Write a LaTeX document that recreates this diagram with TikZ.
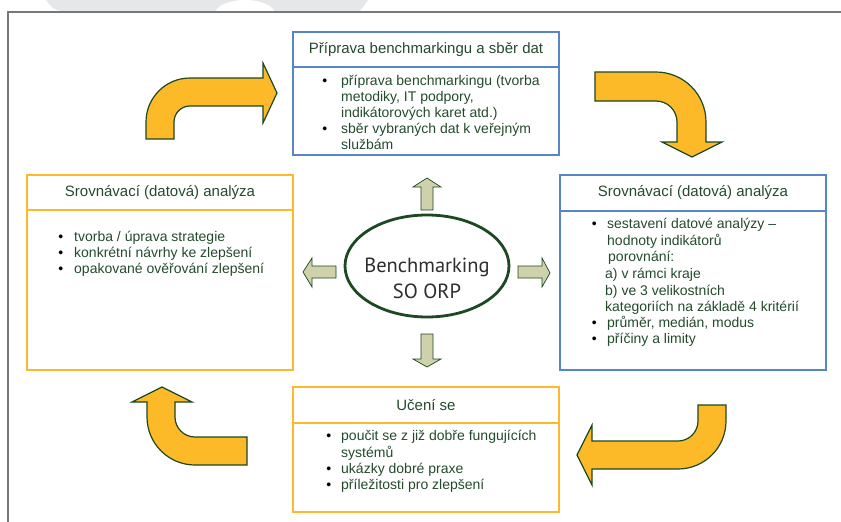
\documentclass[tikz,border=0pt]{standalone}
\usepackage{fontspec}
\setmainfont{Liberation Sans}
\newfontfamily\benchfont{PT Sans}
\usepackage{tikz}
\usetikzlibrary{shapes.geometric}

\definecolor{boxblue}{RGB}{88,133,199}
\definecolor{boxorange}{RGB}{252,185,44}
\definecolor{textgreen}{RGB}{36,74,44}
\definecolor{arroworange}{RGB}{252,186,40}
\definecolor{arrowgreen}{RGB}{28,72,34}
\definecolor{khaki}{RGB}{206,209,170}
\definecolor{framegray}{RGB}{118,119,122}
\definecolor{decogray}{RGB}{230,231,232}
\definecolor{benchgray}{RGB}{45,45,45}

\tikzstyle{bluebox} = [draw=boxblue, line width=2pt, inner sep=0pt, outer sep=0pt, minimum width=266pt]
\tikzstyle{orangebox} = [draw=boxorange, line width=2pt, inner sep=0pt, outer sep=0pt, minimum width=266pt]
\tikzstyle{headtext} = [text=textgreen, font=\fontsize{15}{18}\selectfont]
\tikzstyle{bodytext} = [text=textgreen, font=\fontsize{14}{16}\selectfont, align=left, anchor=north west, inner sep=0pt]
\tikzstyle{bigarrow} = [fill=arroworange, draw=arrowgreen, line width=1.2pt]
\tikzstyle{smallarrow} = [fill=khaki, draw=arrowgreen, line width=0.7pt]

\newcommand{\bul}[1]{\llap{\textcolor{black}{\fontsize{14}{14}\selectfont\textbullet}\hspace{#1}}}

\begin{document}
\begin{tikzpicture}[x=1pt, y=-1pt]
  \useasboundingbox (0,0) rectangle (841,522);

  % slide decoration and frame
  \fill[decogray] (46,0) .. controls (50,6) and (55,11) .. (62,11) -- (360,11) -- (368,0) -- cycle;
  \fill[white] (245,14) ellipse [x radius=30, y radius=14];
  \draw[framegray, line width=2.5pt] (8,522) -- (8,12) -- (841,12);

  % boxes
  \node[bluebox, headtext, minimum height=35pt, anchor=north west] (prephead) at (293,32) {Příprava benchmarkingu a sběr dat};
  \node[bluebox, minimum height=88pt, anchor=north west] (prepbody) at (prephead.south west) {};

  \node[orangebox, headtext, minimum height=35pt, anchor=north west] (lefthead) at (27,175) {Srovnávací (datová) analýza};
  \node[orangebox, minimum height=160pt, anchor=north west] (leftbody) at (lefthead.south west) {};

  \node[bluebox, headtext, minimum height=36pt, anchor=north west] (righthead) at (560,175) {Srovnávací (datová) analýza};
  \node[bluebox, minimum height=159pt, anchor=north west] (rightbody) at (righthead.south west) {};

  \node[orangebox, headtext, minimum height=36pt, anchor=north west] (learnhead) at (293,387) {Učení se};
  \node[orangebox, minimum height=89pt, anchor=north west] (learnbody) at (learnhead.south west) {};

  % box texts
  \node[bodytext] (preptext) at (341,74.5) {\bul{14pt}\strut příprava benchmarkingu (tvorba\\
    metodiky, IT podpory,\\
    indikátorových karet atd.)\\
    \bul{14pt}sběr vybraných dat k veřejným\\
    službám};

  \node[bodytext] (lefttext) at (74,230.5) {\bul{11pt}\strut tvorba / úprava strategie\\
    \bul{11pt}konkrétní návrhy ke zlepšení\\
    \bul{11pt}opakované ověřování zlepšení};

  \node[bodytext] (righttext) at (607,217.5) {\bul{10.5pt}\strut sestavení datové analýzy –\\
    hodnoty indikátorů\\
    \hspace{1pt}porovnání:\\[1pt]
    \hspace{-2pt}a) v rámci kraje\\[1pt]
    \hspace{-2pt}b) ve 3 velikostních\\
    \hspace{-2pt}kategoriích na základě 4 kritérií\\
    \bul{10.5pt}průměr, medián, modus\\
    \bul{10.5pt}příčiny a limity};

  \node[bodytext] (learntext) at (341,429.5) {\bul{10pt}\strut poučit se z již dobře fungujících\\
    systémů\\
    \bul{10pt}ukázky dobré praxe\\
    \bul{10pt}příležitosti pro zlepšení};

  % centre ellipse
  \node[ellipse, draw=arrowgreen, line width=2.8pt, minimum width=164pt, minimum height=102pt] (bench) at (427,266) {};
  \node[text=benchgray, font=\benchfont\fontsize{20.5}{26}\selectfont, align=center] (benchtext) at (427,278) {Benchmarking\\SO ORP};

  % small arrows out of the centre
  \draw[smallarrow] (421,210) -- (421,187) -- (413,187) -- (427,178) -- (441,187) -- (433,187) -- (433,210) -- cycle;
  \draw[smallarrow] (421,334) -- (421,359) -- (413,359) -- (427,367) -- (441,359) -- (433,359) -- (433,334) -- cycle;
  \draw[smallarrow] (336,266) -- (312,266) -- (312,258) -- (303,272) -- (312,287) -- (312,278) -- (336,278) -- cycle;
  \draw[smallarrow] (518,266) -- (542,266) -- (542,258) -- (550,273) -- (542,287) -- (542,278) -- (518,278) -- cycle;

  % big curved arrows round the cycle
  \draw[bigarrow] (146,139) -- (146,122) arc[start angle=180, end angle=270, radius=44] -- (263,78) -- (263,63) -- (277,93)
    -- (263,123) -- (263,106) -- (190,106) arc[start angle=270, end angle=180, radius=16] -- (174,139) -- cycle;
  \draw[bigarrow] (595,72) -- (656,72) arc[start angle=270, end angle=360, radius=50] -- (706,142) -- (722,142) -- (692,157)
    -- (662,142) -- (677,142) -- (677,122) arc[start angle=0, end angle=-90, radius=21] -- (595,101) -- cycle;
  \draw[bigarrow] (726,405) -- (726,421) arc[start angle=0, end angle=90, radius=48] -- (592,469) -- (592,485) -- (577,455)
    -- (592,425) -- (592,441) -- (678,441) arc[start angle=90, end angle=0, radius=20] -- (698,405) -- cycle;
  \draw[bigarrow] (247,465) -- (195,465) arc[start angle=90, end angle=180, radius=48] -- (147,402) -- (132,402) -- (162,387)
    -- (192,402) -- (175,402) -- (175,417) arc[start angle=180, end angle=90, radius=20] -- (247,437) -- cycle;

\end{tikzpicture}
\end{document}
